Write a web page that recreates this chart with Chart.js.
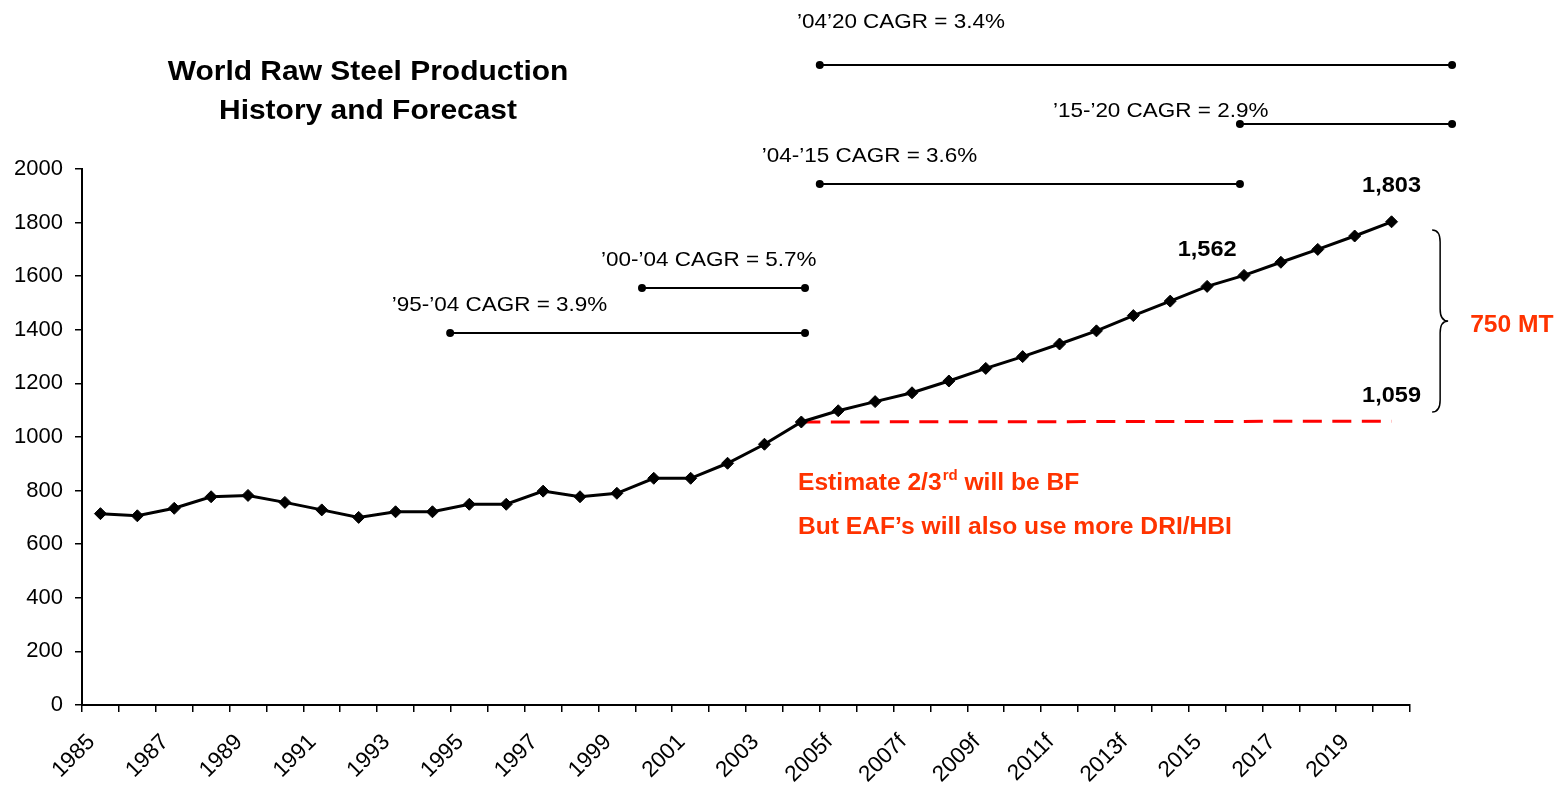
<!DOCTYPE html>
<html>
<head>
<meta charset="utf-8">
<title>World Raw Steel Production</title>
<script src="https://cdn.jsdelivr.net/npm/chart.js@4.4.1/dist/chart.umd.min.js"></script>
<style>
  html, body { margin: 0; padding: 0; background: #ffffff; }
  #wrap { width: 1558px; height: 786px; position: relative; }
</style>
</head>
<body>
<div id="wrap"><canvas id="steel"></canvas></div>
<script>
// ---- data -------------------------------------------------------------
const years = [
  '1985', '1986', '1987', '1988', '1989', '1990', '1991', '1992', '1993', '1994',
  '1995', '1996', '1997', '1998', '1999', '2000', '2001', '2002', '2003', '2004',
  '2005f', '2006f', '2007f', '2008f', '2009f', '2010f', '2011f', '2012f', '2013f', '2014f',
  '2015', '2016', '2017', '2018', '2019', '2020'
];

// world raw steel output, million tonnes (history to 2004, forecast after)
const production = [
  714, 706, 734, 777, 782, 756, 728, 700, 721, 721,
  749, 749, 798, 777, 790, 846, 846, 902, 973, 1056,
  1098, 1132, 1165, 1209, 1256, 1300, 1347, 1396, 1453, 1507,
  1562, 1603, 1652, 1700, 1750, 1803
];

// output held near the 2004 level
const flatYears = ['2004', '2020'];
const flatValues = [1056, 1059];

// growth-rate spans
const cagrTexts = [
  '\u201904\u201920 CAGR = 3.4%',
  '\u201915-\u201920 CAGR = 2.9%',
  '\u201904-\u201915 CAGR = 3.6%',
  '\u201900-\u201904 CAGR = 5.7%',
  '\u201995-\u201904 CAGR = 3.9%'
];

const yTicks = [0, 200, 400, 600, 800, 1000, 1200, 1400, 1600, 1800, 2000];

// ---- layout of the annotations (category index / axis value) ----------
const cagrLayout = [
  { x0: 19.5,  x1: 36.64, y: 2388, tx: 18.88, ty: 2549 },
  { x0: 30.89, x1: 36.64, y: 2168, tx: 25.82, ty: 2216 },
  { x0: 19.5,  x1: 30.89, y: 1944, tx: 17.93, ty: 2049 },
  { x0: 14.68, x1: 19.1,  y: 1556, tx: 13.57, ty: 1660 },
  { x0: 9.48,  x1: 19.1,  y: 1388, tx: 7.9,   ty: 1493 }
];
const labelledYears = ['2015', '2020'];

const FONT = "'Liberation Sans', Arial, Helvetica, sans-serif";
const RED_TEXT = '#ff3300';
const STRETCH = 1.07;   // slightly widened lettering for the annotations

const flatData = flatYears.map((yr, i) => ({ x: yr, y: flatValues[i] }));

// draws text widened horizontally by STRETCH, anchored at (x, y)
function wideText(ctx, text, x, y, align) {
  const w = ctx.measureText(text).width * STRETCH;
  let left = x;
  if (align === 'center') left = x - w / 2;
  else if (align === 'right') left = x - w;
  ctx.save();
  ctx.textAlign = 'left';
  ctx.translate(left, y);
  ctx.scale(STRETCH, 1);
  ctx.fillText(text, 0, 0);
  ctx.restore();
  return w;
}

const annotations = {
  id: 'annotations',
  afterDraw(chart) {
    const ctx = chart.ctx;
    const xs = chart.scales.x;
    const ys = chart.scales.y;
    const X = v => xs.getPixelForValue(v);
    const Y = v => ys.getPixelForValue(v);

    ctx.save();
    ctx.textBaseline = 'middle';

    // title
    ctx.fillStyle = '#000';
    ctx.font = 'bold 28px ' + FONT;
    wideText(ctx, 'World Raw Steel Production', 368, 72, 'center');
    wideText(ctx, 'History and Forecast', 368, 111, 'center');

    // growth-rate spans with end dots
    cagrLayout.forEach((c, i) => {
      const x0 = X(c.x0), x1 = X(c.x1), y = Y(c.y);
      ctx.strokeStyle = '#000';
      ctx.lineWidth = 2;
      ctx.beginPath();
      ctx.moveTo(x0, y);
      ctx.lineTo(x1, y);
      ctx.stroke();
      ctx.fillStyle = '#000';
      [x0, x1].forEach(px => {
        ctx.beginPath();
        ctx.arc(px, y, 4, 0, Math.PI * 2);
        ctx.fill();
      });
      ctx.font = '21px ' + FONT;
      wideText(ctx, cagrTexts[i], X(c.tx), Y(c.ty), 'left');
    });

    // value labels on the forecast line
    const meta = chart.getDatasetMeta(0);
    ctx.font = 'bold 22px ' + FONT;
    ctx.fillStyle = '#000';
    labelledYears.forEach(yr => {
      const idx = years.indexOf(yr);
      const pt = meta.data[idx];
      wideText(ctx, production[idx].toLocaleString('en-US'), pt.x, pt.y - 36, 'center');
    });
    const flatMeta = chart.getDatasetMeta(1);
    const lastFlat = flatMeta.data[flatMeta.data.length - 1];
    wideText(ctx, flatValues[flatValues.length - 1].toLocaleString('en-US'), lastFlat.x, lastFlat.y - 25, 'center');

    // brace spanning the gap between the two 2020 levels
    const bx0 = X(36.1), bxm = bx0 + 8, bxt = bx0 + 16;
    const bTop = Y(1772), bBot = Y(1093), bMid = (bTop + bBot) / 2;
    const r = 12;
    ctx.strokeStyle = '#000';
    ctx.lineWidth = 1.5;
    ctx.beginPath();
    ctx.moveTo(bx0, bTop);
    ctx.quadraticCurveTo(bxm, bTop, bxm, bTop + r);
    ctx.lineTo(bxm, bMid - r);
    ctx.quadraticCurveTo(bxm, bMid, bxt, bMid);
    ctx.quadraticCurveTo(bxm, bMid, bxm, bMid + r);
    ctx.lineTo(bxm, bBot - r);
    ctx.quadraticCurveTo(bxm, bBot, bx0, bBot);
    ctx.stroke();

    ctx.fillStyle = RED_TEXT;
    ctx.font = 'bold 23px ' + FONT;
    wideText(ctx, '750 MT', bxt + 22, bMid + 5, 'left');

    // notes under the line
    const nx = X(18.91);
    const y1 = Y(825);
    ctx.font = 'bold 23px ' + FONT;
    const w = wideText(ctx, 'Estimate 2/3', nx, y1, 'left');
    ctx.font = 'bold 14px ' + FONT;
    const w2 = wideText(ctx, 'rd', nx + w + 1, y1 - 8, 'left');
    ctx.font = 'bold 23px ' + FONT;
    wideText(ctx, ' will be BF', nx + w + 1 + w2, y1, 'left');
    wideText(ctx, 'But EAF\u2019s will also use more DRI/HBI', nx, Y(660), 'left');

    ctx.restore();
  }
};

new Chart(document.getElementById('steel'), {
  type: 'line',
  data: {
    labels: years,
    datasets: [
      {
        label: 'Production',
        data: production,
        borderColor: '#000',
        backgroundColor: '#000',
        borderWidth: 3,
        pointStyle: 'rectRot',
        pointRadius: 6,
        pointBackgroundColor: '#000',
        pointBorderColor: '#000',
        pointBorderWidth: 1,
        tension: 0,
        order: 1
      },
      {
        label: 'Flat',
        data: flatData,
        borderColor: '#ff0000',
        borderWidth: 3,
        borderDash: [19, 10.5],
        pointRadius: 0,
        tension: 0,
        order: 2
      }
    ]
  },
  options: {
    responsive: true,
    maintainAspectRatio: false,
    animation: false,
    layout: { padding: { left: 14, right: 148, top: 169, bottom: 0 } },
    plugins: {
      legend: { display: false },
      tooltip: { enabled: false },
      title: { display: false }
    },
    scales: {
      x: {
        type: 'category',
        offset: true,
        border: { color: '#000', width: 2 },
        grid: {
          offset: true,
          drawOnChartArea: false,
          drawTicks: true,
          tickLength: 7,
          color: '#000',
          lineWidth: 1.5
        },
        ticks: {
          autoSkip: false,
          minRotation: 45,
          maxRotation: 45,
          color: '#000',
          padding: 17,
          labelOffset: -9,
          font: { family: FONT, size: 22.5 },
          callback: function (value, index) {
            return index % 2 === 0 ? this.getLabelForValue(value) : '';
          }
        },
        afterFit: scale => { scale.height = 81; }
      },
      y: {
        min: 0,
        max: 2000,
        afterBuildTicks: axis => { axis.ticks = yTicks.map(v => ({ value: v })); },
        afterFit: scale => { scale.width = 68; },
        border: { color: '#000', width: 2 },
        grid: {
          drawOnChartArea: false,
          drawTicks: true,
          tickLength: 7,
          color: '#000',
          lineWidth: 1.5
        },
        ticks: {
          color: '#000',
          padding: 12,
          font: { family: FONT, size: 22 },
          callback: v => String(v)
        }
      }
    }
  },
  plugins: [annotations]
});
</script>
</body>
</html>
